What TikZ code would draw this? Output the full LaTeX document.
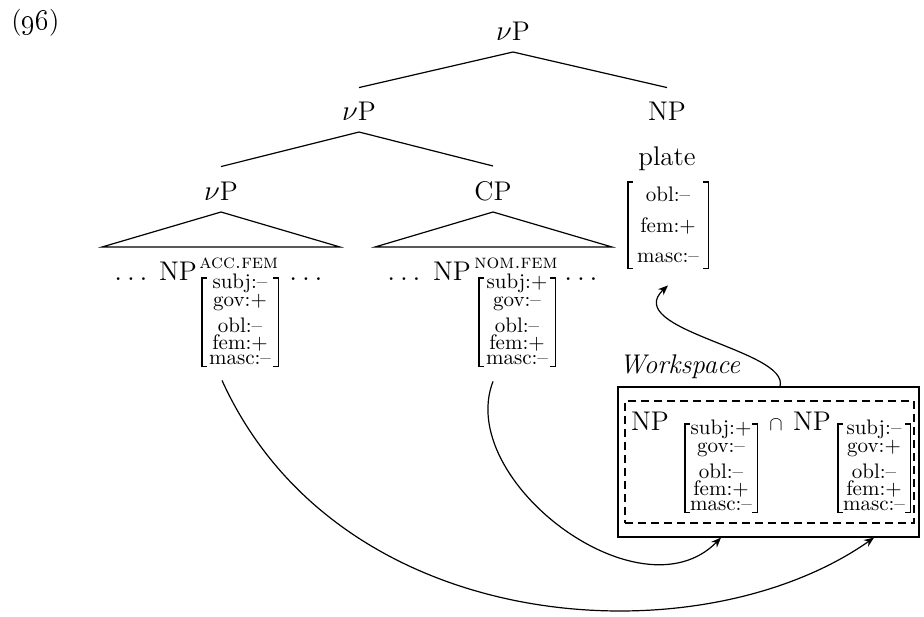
\documentclass[tikz,border=0pt]{standalone}
\usetikzlibrary{arrows.meta,calc}
\tikzset{
  lab/.style={inner sep=0pt, anchor=base, font=\fontsize{13.5}{16}\selectfont},
  feat/.style={inner sep=0pt, anchor=base, font=\fontsize{10.5}{12}\selectfont},
  supsc/.style={inner sep=0pt, anchor=base west, font=\fontsize{10}{12}\selectfont},
  avmb/.style={inner sep=0pt, minimum width=38pt, minimum height=44pt},
  brkline/.style={line width=0.9pt},
  edge/.style={line width=0.6pt},
  arr/.style={line width=0.6pt, -{Stealth[length=5pt,width=4pt]}},
  wsframe/.style={draw, line width=0.6pt, inner sep=0pt, minimum width=150.5pt, minimum height=75pt},
  wsdashed/.style={draw, dashed, dash pattern=on 4pt off 2.5pt, line width=0.6pt, inner sep=0pt, minimum width=144.5pt, minimum height=61pt},
}
\newcommand\featrows[2]{%
  \foreach \off/\txt [count=\i] in {#2} {\node[feat] (#1-\i) at ([yshift=-\off*0.5pt]#1.north) {\txt};}}
\newcommand\brackets[1]{%
  \draw[brkline] ([xshift=2.5pt]#1.north west) -- (#1.north west) -- (#1.south west) -- ([xshift=2.5pt]#1.south west);
  \draw[brkline] ([xshift=-2.5pt]#1.north east) -- (#1.north east) -- (#1.south east) -- ([xshift=-2.5pt]#1.south east);}
\newcommand\mydots{$\ldots$}
\begin{document}
\begin{tikzpicture}[x=0.5pt,y=-0.5pt]
\useasboundingbox (0,0) rectangle (924,616);

% example number
\node[lab, anchor=base west] (exnum) at (11,29) {(\oldstylenums{96})};

% tree labels
\node[lab] (root) at (513,40) {$\nu$P};
\node[lab] (vp2) at (359,120) {$\nu$P};
\node[lab] (np2) at (667,120) {NP};
\node[lab] (vp3) at (221,200) {$\nu$P};
\node[lab] (cp) at (493,200) {CP};
\node[lab] (plate) at (667,165) {plate};

% branches
\draw[edge] ([yshift=-6pt]root.base) -- ([yshift=6.8pt]vp2.north);
\draw[edge] ([yshift=-6pt]root.base) -- ([yshift=6.8pt]np2.north);
\draw[edge] ([yshift=-6pt]vp2.base) -- ([yshift=7.3pt]vp3.north);
\draw[edge] ([yshift=-6pt]vp2.base) -- ([yshift=7.3pt]cp.north);

% triangles
\draw[edge] ([yshift=-6pt]vp3.base) -- ++(-119,35) -- ++(238,0) -- cycle;
\draw[edge] ([yshift=-6pt]cp.base) -- ++(-118,35) -- ++(237,0) -- cycle;

% accusative NP
\node[lab] (dacc1) at (131,280) {\mydots};
\node[lab] (npacc) at (178,280) {NP};
\node[supsc] (supacc) at (199,268) {\textsc{acc.fem}};
\node[avmb] (acc) at (240,322) {};
\brackets{acc}
\featrows{acc}{11/subj:\textendash,28.5/gov:+,54.5/obl:\textendash,72/fem:+,86.5/masc:\textendash}
\node[lab] (dacc2) at (306,280) {\mydots};

% nominative NP
\node[lab] (dnom1) at (404,280) {\mydots};
\node[lab] (npnom) at (452,280) {NP};
\node[supsc] (supnom) at (474,268) {\textsc{nom.fem}};
\node[avmb] (nom) at (517,322) {};
\brackets{nom}
\featrows{nom}{11/subj:+,28.5/gov:\textendash,54.5/obl:\textendash,72/fem:+,86.5/masc:\textendash}
\node[lab] (dnom2) at (581,280) {\mydots};

% plate features
\node[avmb, minimum width=40pt, minimum height=43pt] (plt) at (668,225) {};
\brackets{plt}
\featrows{plt}{20/obl:\textendash,51/fem:+,81/masc:\textendash}

% workspace
\node[lab, anchor=base west, font=\fontsize{13.5}{16}\selectfont\itshape] (wslab) at (619,373) {Workspace};
\node[wsframe] (wsbox) at (768.5,462) {};
\node[wsdashed] (wsdash) at (769.5,462) {};
\node[lab] (ws1np) at (650,430) {NP};
\node[avmb, minimum width=36pt] (ws1) at (721,468) {};
\brackets{ws1}
\featrows{ws1}{11/subj:+,28.5/gov:\textendash,54.5/obl:\textendash,72/fem:+,86.5/masc:\textendash}
\node[lab, font=\fontsize{10}{12}\selectfont] (cap) at (776,430) {$\cap$};
\node[lab] (ws2np) at (812,430) {NP};
\node[avmb, minimum width=36pt] (ws2) at (874,468) {};
\brackets{ws2}
\featrows{ws2}{11/subj:\textendash,28.5/gov:+,54.5/obl:\textendash,72/fem:+,86.5/masc:\textendash}

% arrows
\draw[arr] ([xshift=-9pt,yshift=-7pt]acc.south) .. controls (340,640) and (700,660) .. (ws2.south |- wsbox.south);
\draw[arr] ([xshift=-12pt,yshift=-7.5pt]nom.south) .. controls (455,480) and (640,620) .. (ws1.south |- wsbox.south);
\draw[arr] ([xshift=5.75pt]wsbox.north) .. controls (790,350) and (620,330) .. ([yshift=-8.5pt]plt.south);
\end{tikzpicture}
\end{document}
